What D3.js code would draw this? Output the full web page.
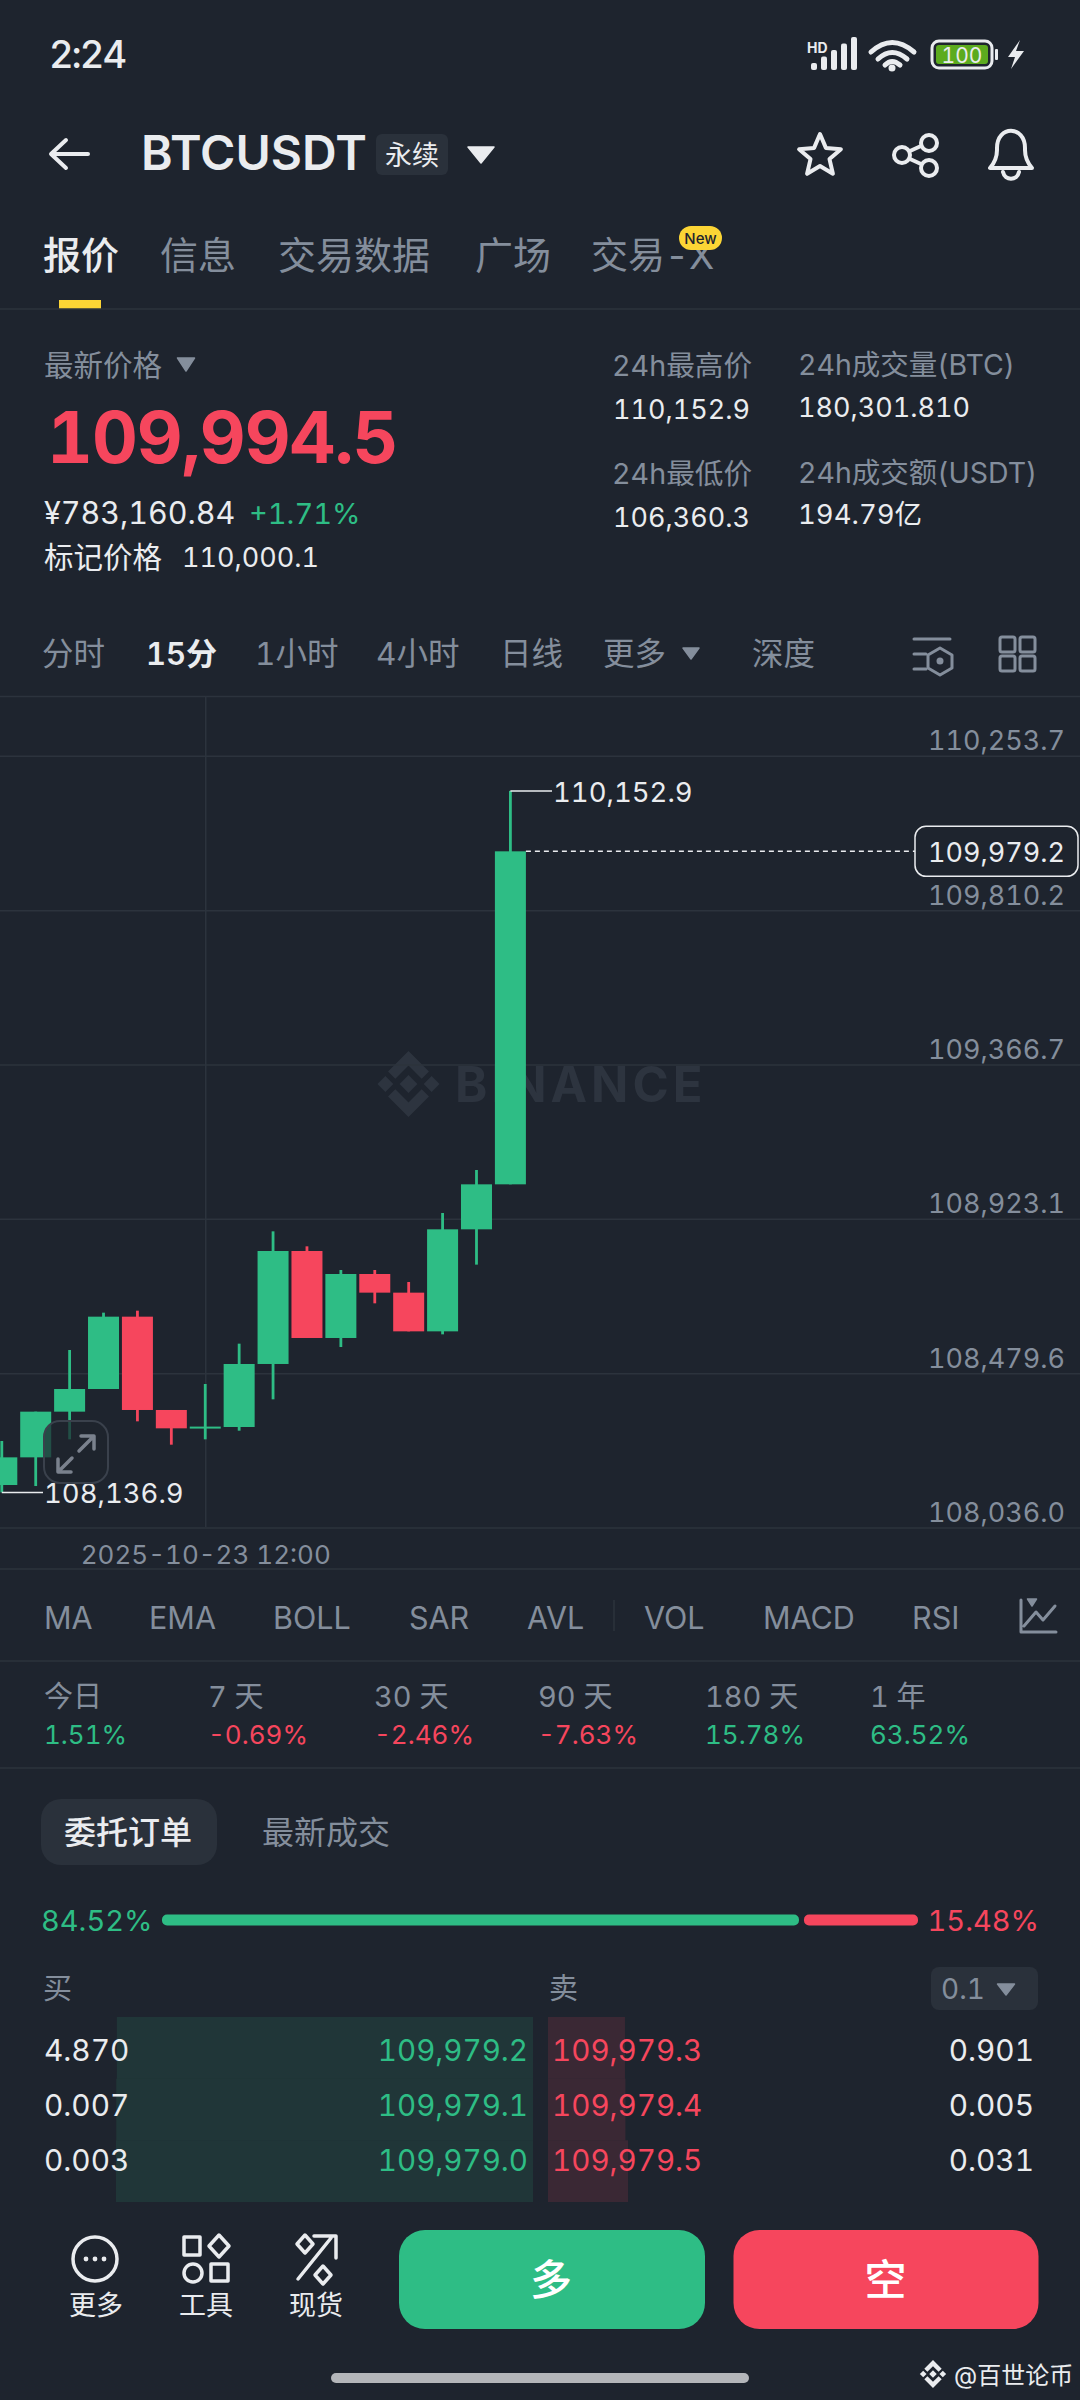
<!DOCTYPE html>
<html>
<head>
<meta charset="utf-8">
<script src="https://cdn.jsdelivr.net/npm/d3@7"></script>
<style>
  html, body { margin: 0; padding: 0; background: #1e242e; }
  svg { display: block; }
  text { font-family: Inter, "Noto Sans CJK SC", sans-serif; font-variant-numeric: tabular-nums; font-feature-settings: "tnum" 1; }
</style>
</head>
<body>
<div id="stage"></div>
<script>
// candle data (15m bars)
const candleTimes = ["10:30","10:45","11:00","11:15","11:30","11:45","12:00","12:15","12:30","12:45","13:00","13:15","13:30","13:45","14:00","14:15"];
const opens  = [108158.1,108237.6,108368.9,108434.0,108641.9,108373.7,108321.0,108324.8,108505.9,108830.6,108580.6,108764.5,108710.9,108599.7,108892.9,109022.2];
const highs  = [108284.6,108368.9,108546.1,108653.4,108659.1,108373.7,108448.4,108564.3,108887.1,108844.0,108776.0,108776.0,108741.5,108939.8,109063.4,110152.9];
const lows   = [108136.9,108155.2,108289.4,108434.0,108341.1,108274.0,108289.4,108314.2,108404.3,108580.6,108554.7,108680.2,108599.7,108591.1,108791.4,109022.2];
const closes = [108237.6,108368.9,108434.0,108641.9,108373.7,108321.0,108326.0,108505.9,108830.6,108580.6,108764.5,108710.9,108599.7,108892.9,109022.2,109979.2];
const priceTicks = [110253.7,109810.2,109366.7,108923.1,108479.6,108036.0];
const lastPrice = 109979.2;

const pageTabs = ["报价","信息","交易数据","广场","交易-X"];
const intervals = ["分时","15分","1小时","4小时","日线","更多","深度"];
const indicators = ["MA","EMA","BOLL","SAR","AVL","VOL","MACD","RSI"];
const perfLabels = ["今日","7 天","30 天","90 天","180 天","1 年"];
const perfValues = [1.51,-0.69,-2.46,-7.63,15.78,63.52];
const bidPrices = ["109,979.2","109,979.1","109,979.0"];
const askPrices = ["109,979.3","109,979.4","109,979.5"];
const bidQty = [4.870,0.007,0.003];
const askQty = [0.901,0.005,0.031];
const buyShare = 84.52, sellShare = 15.48;
const toolLabels = ["更多","工具","现货"];

const BG = "#1e242e", GREEN = "#2ebd85", RED = "#f6465d", TEXT = "#eaecef", MUTED = "#848e9c", LINE = "#2c333d", PILL = "#2a313b";

const svg = d3.select("#stage").append("svg").attr("width", 1080).attr("height", 2400);
svg.append("rect").attr("width", 1080).attr("height", 2400).attr("fill", BG);

function txt(x, y, s, size, fill, opts = {}) {
    return svg.append("text")
        .attr("x", x).attr("y", y)
        .attr("font-size", size)
        .attr("fill", fill)
        .attr("font-weight", opts.weight || 400)
        .attr("text-anchor", opts.anchor || "start")
        .attr("dominant-baseline", opts.mid ? "central" : "auto")
        .attr("letter-spacing", opts.ls || 0)
        .text(s);
}
function hline(y, x1 = 0, x2 = 1080) {
    svg.append("line").attr("x1", x1).attr("x2", x2).attr("y1", y).attr("y2", y).attr("stroke", LINE).attr("stroke-width", 1.5);
}
function tri(cx, y1, w, h, fill) {
    svg.append("path").attr("d", `M${cx - w / 2},${y1}h${w}l${-w / 2},${h}z`).attr("fill", fill)
        .attr("stroke", fill).attr("stroke-width", 1.5).attr("stroke-linejoin", "round");
}
function stroke(d, color = TEXT, w = 4) {
    return svg.append("path").attr("d", d).attr("fill", "none").attr("stroke", color).attr("stroke-width", w)
        .attr("stroke-linecap", "round").attr("stroke-linejoin", "round");
}
// binance style diamond mark
function logo(cx, cy, r, fill) {
    const g = svg.append("g").attr("transform", `translate(${cx},${cy})`).attr("fill", fill);
    const s = r * 0.30;
    const sq = (x, y, k = s) => g.append("path").attr("d", `M${x},${y - k}L${x + k},${y}L${x},${y + k}L${x - k},${y}z`);
    sq(0, 0, s * 0.9);
    sq(-r + s, 0, s * 0.8);
    sq(r - s, 0, s * 0.8);
    const chev = (dir) => g.append("path").attr("d",
        `M0,${dir * r}L${r * .62},${dir * r * .38}L${r * .4},${dir * r * .16}L0,${dir * r * .56}L${-r * .4},${dir * r * .16}L${-r * .62},${dir * r * .38}z`);
    chev(-1); chev(1);
}

// ---- status bar
txt(49, 68, "2:24", 38, TEXT, { weight: 500, ls: -2 });
txt(807, 53, "HD", 14, TEXT, { weight: 700 });
[0, 1, 2, 3, 4].forEach(i => {
    const h = 7 + i * 6.5;
    svg.append("rect").attr("x", 811 + i * 10).attr("y", 70 - h).attr("width", 6).attr("height", h).attr("rx", 2).attr("fill", TEXT);
});
stroke("M871,52Q892,33 914,52", TEXT, 5);
stroke("M878,59Q892,46 907,59", TEXT, 5);
stroke("M885,65Q892,58 900,65", TEXT, 5);
svg.append("circle").attr("cx", 892).attr("cy", 68).attr("r", 3.5).attr("fill", TEXT);
svg.append("rect").attr("x", 932).attr("y", 41).attr("width", 60).attr("height", 27).attr("rx", 7).attr("fill", "none").attr("stroke", TEXT).attr("stroke-width", 3);
svg.append("rect").attr("x", 936).attr("y", 45).attr("width", 52).attr("height", 19).attr("rx", 3).attr("fill", "#5cab1e");
svg.append("rect").attr("x", 995).attr("y", 49).attr("width", 3).attr("height", 11).attr("rx", 1).attr("fill", TEXT);
txt(962, 55, "100", 21, TEXT, { anchor: "middle", mid: true });
svg.append("path").attr("d", "M1020,40L1008,57L1015,57L1011,69L1024,51L1016,51z").attr("fill", TEXT);

// ---- title row
stroke("M88,154H52M66,140L51,154L66,168", TEXT, 4);
txt(141, 170, "BTCUSDT", 48, TEXT, { weight: 600 });
svg.append("rect").attr("x", 376).attr("y", 134).attr("width", 72).attr("height", 41).attr("rx", 6).attr("fill", PILL);
txt(412, 155, "永续", 27, TEXT, { anchor: "middle", mid: true });
tri(481, 147, 26, 16, TEXT);
stroke(d3.range(10).map(i => {
    const r = i % 2 ? 10 : 22, a = -Math.PI / 2 + i * Math.PI / 5;
    return (i ? "L" : "M") + (820 + r * Math.cos(a)).toFixed(1) + "," + (156 + r * Math.sin(a)).toFixed(1);
}).join("") + "z", TEXT, 4);
[[929, 143], [902, 155], [929, 168]].forEach(p => svg.append("circle").attr("cx", p[0]).attr("cy", p[1]).attr("r", 8).attr("fill", "none").attr("stroke", TEXT).attr("stroke-width", 4));
stroke("M910,151L921,146M910,159L921,164", TEXT, 4);
stroke("M990,168H1032Q1025,160 1025,150V148C1025,125 997,125 997,148V150Q997,160 990,168zM1003,172C1005,181 1017,181 1019,172", TEXT, 4);

// ---- page tabs
const tabX = [43, 160, 278, 475, 591];
const tabSize = [38, 38, 38, 38, 37];
pageTabs.forEach((t, i) => txt(tabX[i], 255, t, tabSize[i], i === 0 ? TEXT : MUTED, { mid: true, weight: i === 0 ? 500 : 400 }));
svg.append("rect").attr("x", 679).attr("y", 226).attr("width", 43).attr("height", 24).attr("rx", 12).attr("fill", "#fcd535");
txt(700.5, 238.5, "New", 15, "#1e242e", { anchor: "middle", mid: true, weight: 500 });
svg.append("rect").attr("x", 59).attr("y", 300).attr("width", 42).attr("height", 9).attr("fill", "#fcd535");
hline(309);

// ---- price block
txt(44, 365, "最新价格", 29.5, MUTED, { mid: true });
tri(186, 358, 17, 13, MUTED);
txt(47, 463, "109,994.5", 71, RED, { weight: 700, ls: -1 });
txt(44, 524, "¥783,160.84", 30.5, TEXT);
txt(249, 524, "+1.71%", 29, GREEN);
txt(44, 557, "标记价格", 29.5, TEXT, { mid: true });
txt(182, 567, "110,000.1", 27, TEXT);
txt(612, 365, "24h最高价", 28.7, MUTED, { mid: true });
txt(613, 419, "110,152.9", 27, TEXT);
txt(612, 473, "24h最低价", 28.7, MUTED, { mid: true });
txt(613, 527, "106,360.3", 27, TEXT);
txt(798, 364, "24h成交量(BTC)", 28.5, MUTED, { mid: true });
txt(798, 417, "180,301.810", 27, TEXT);
txt(798, 472, "24h成交额(USDT)", 28.5, MUTED, { mid: true });
txt(798, 524, "194.79亿", 27.5, TEXT);

// ---- interval row
const intervalX = [42, 146, 255, 376, 500, 603, 752];
intervals.forEach((t, i) => txt(intervalX[i], 653, t, i === 1 ? 31 : 31.5, i === 1 ? TEXT : MUTED, { mid: true, weight: i === 1 ? 600 : 400 }));
tri(691, 648, 16, 11, MUTED);
stroke("M914,639H950M914,654H926M914,669H926", MUTED, 3);
stroke("M940,648L952,655V668L940,675L928,668V655z", MUTED, 3);
svg.append("circle").attr("cx", 940).attr("cy", 661).attr("r", 3.5).attr("fill", MUTED);
[[1000, 637], [1020, 637], [1000, 656], [1020, 656]].forEach(p => svg.append("rect").attr("x", p[0]).attr("y", p[1]).attr("width", 15).attr("height", 15).attr("rx", 2)
    .attr("fill", "none").attr("stroke", MUTED).attr("stroke-width", 3));
hline(696.5);

// ---- candle chart
const parseT = d3.utcParse("%Y-%m-%d %H:%M");
const times = candleTimes.map(t => parseT("2025-10-23 " + t));
const x = d3.scaleUtc().domain([times[0], times[times.length - 1]]).range([1.8, 510.4]);
const y = d3.scaleLinear().domain([108036, 110253.7]).range([1527.5, 755.8]);
const fmt = d3.format(",.1f");
const candles = times.map((t, i) => ({ t, o: opens[i], h: highs[i], l: lows[i], c: closes[i] }));

// watermark under the candles
logo(408.5, 1084, 33, "#2d343f");
txt(455, 1101.5, "BINANCE", 49, "#2d343f", { weight: 700, ls: 4 });

const yAxis = d3.axisLeft(y).tickValues(priceTicks).tickSize(-1080).tickFormat(fmt);
const gy = svg.append("g").attr("class", "y-axis").call(yAxis);
gy.select(".domain").remove();
gy.selectAll(".tick line").attr("stroke", LINE).attr("stroke-width", 1.5);
gy.selectAll(".tick text").attr("x", 1065).attr("dy", -6).attr("text-anchor", "end").attr("dominant-baseline", "auto")
    .attr("fill", MUTED).attr("font-size", 27).attr("font-family", null);

const xAxis = d3.axisBottom(x).tickValues([times[6]]).tickSize(-830.5).tickFormat(d3.utcFormat("%Y-%m-%d %H:%M"));
const gx = svg.append("g").attr("class", "x-axis").attr("transform", "translate(0,1527)").call(xAxis);
gx.select(".domain").remove();
gx.selectAll(".tick line").attr("stroke", LINE).attr("stroke-width", 1.5);
gx.selectAll(".tick text").attr("y", 37).attr("dy", 0).attr("fill", MUTED).attr("font-size", 26).attr("font-family", null);
hline(1569);

const bodyW = 31;
const cg = svg.append("g").attr("class", "candles");
const cs = cg.selectAll("g").data(candles).enter().append("g")
    .attr("fill", d => d.c >= d.o ? GREEN : RED);
cs.append("rect").attr("class", "wick")
    .attr("x", d => x(d.t) - 1.4).attr("width", 2.8)
    .attr("y", d => y(d.h)).attr("height", d => y(d.l) - y(d.h));
cs.append("rect").attr("class", "body")
    .attr("x", d => x(d.t) - bodyW / 2).attr("width", bodyW)
    .attr("y", d => y(Math.max(d.o, d.c))).attr("height", d => Math.max(2, y(Math.min(d.o, d.c)) - y(Math.max(d.o, d.c))));

// high / low markers
const hi = candles[15], lo = candles[0];
svg.append("line").attr("x1", x(hi.t)).attr("x2", 552).attr("y1", y(hi.h)).attr("y2", y(hi.h)).attr("stroke", TEXT).attr("stroke-width", 1.5);
txt(553, y(hi.h) + 1, fmt(hi.h), 27.5, TEXT, { mid: true });
svg.append("line").attr("x1", x(lo.t)).attr("x2", 43).attr("y1", y(lo.l)).attr("y2", y(lo.l)).attr("stroke", TEXT).attr("stroke-width", 1.5);
txt(44, y(lo.l) + 1, fmt(lo.l), 27.5, TEXT, { mid: true });

// last price line + tag
svg.append("line").attr("x1", x(hi.t) + bodyW / 2).attr("x2", 915).attr("y1", y(lastPrice)).attr("y2", y(lastPrice))
    .attr("stroke", TEXT).attr("stroke-width", 1.5).attr("stroke-dasharray", "5 4");
svg.append("rect").attr("x", 915).attr("y", y(lastPrice) - 25).attr("width", 163).attr("height", 50).attr("rx", 11)
    .attr("fill", BG).attr("stroke", TEXT).attr("stroke-width", 1.5);
txt(1065, y(lastPrice) + 1, fmt(lastPrice), 27, TEXT, { anchor: "end", mid: true });

// expand button over the chart
svg.append("rect").attr("x", 44).attr("y", 1421).attr("width", 64).attr("height", 62).attr("rx", 16)
    .attr("fill", BG).attr("fill-opacity", 0.72).attr("stroke", "#3a414c").attr("stroke-width", 2);
stroke("M79,1451L93,1437M81,1436H94V1449M72,1458L59,1471M58,1459V1472H71", "#7a818d", 3.5);

// ---- indicator row
const indicatorX = [44, 149, 273, 409, 527, 644, 763, 912];
indicators.forEach((t, i) => txt(indicatorX[i], 1617, t, 30.5, MUTED, { mid: true }));
svg.append("line").attr("x1", 614).attr("x2", 614).attr("y1", 1600).attr("y2", 1631).attr("stroke", LINE).attr("stroke-width", 1.5);
stroke("M1021,1600V1632H1056M1024,1626L1036,1612L1043,1620L1055,1606", MUTED, 3);
tri(1032, 1599, 9, 7, MUTED);
hline(1661);

// ---- performance row
const perfX = [44, 208, 374, 538, 705, 870];
perfLabels.forEach((t, i) => {
    txt(perfX[i], 1696, t, 29, MUTED, { mid: true });
    const v = perfValues[i];
    txt(perfX[i], 1734, d3.format(".2f")(v).replace("−", "-") + "%", 26, v >= 0 ? GREEN : RED, { mid: true });
});
hline(1768);

// ---- order book tabs
svg.append("rect").attr("x", 41).attr("y", 1799).attr("width", 176).attr("height", 66).attr("rx", 20).attr("fill", PILL);
txt(64, 1832, "委托订单", 32, TEXT, { mid: true, weight: 500 });
txt(262, 1832, "最新成交", 32, MUTED, { mid: true });

// ---- buy / sell ratio
const ratioX = d3.scaleLinear().domain([0, buyShare + sellShare]).range([162, 918]);
txt(41, 1920, buyShare.toFixed(2) + "%", 29, GREEN, { mid: true });
svg.append("rect").attr("x", ratioX(0)).attr("y", 1914.5).attr("width", ratioX(buyShare) - ratioX(0) - 2).attr("height", 11).attr("rx", 5).attr("fill", GREEN);
svg.append("rect").attr("x", ratioX(buyShare) + 3).attr("y", 1914.5).attr("width", ratioX(buyShare + sellShare) - ratioX(buyShare) - 3).attr("height", 11).attr("rx", 5).attr("fill", RED);
txt(1039, 1920, sellShare.toFixed(2) + "%", 29, RED, { anchor: "end", mid: true });

// ---- order book
txt(43, 1988, "买", 29, MUTED, { mid: true });
txt(549, 1988, "卖", 29, MUTED, { mid: true });
svg.append("rect").attr("x", 931).attr("y", 1967).attr("width", 107).attr("height", 43).attr("rx", 8).attr("fill", PILL);
txt(941, 1989, "0.1", 28, MUTED, { mid: true });
tri(1006, 1984, 17, 11, MUTED);

const rowY = d3.scalePoint().domain(d3.range(3)).range([2050, 2160]);
const bandY = d3.scaleBand().domain(d3.range(3)).range([2017, 2202]);
const bidCum = d3.cumsum(bidQty), askCum = d3.cumsum(askQty);
const depth = d3.scaleLinear().domain([0, bidCum[2]]).range([0, 417]);
d3.range(3).forEach(i => {
    svg.append("rect").attr("x", 533 - depth(bidCum[i])).attr("y", bandY(i)).attr("width", depth(bidCum[i])).attr("height", bandY.bandwidth()).attr("fill", GREEN).attr("fill-opacity", 0.12);
    svg.append("rect").attr("x", 548).attr("y", bandY(i)).attr("width", depth(askCum[i])).attr("height", bandY.bandwidth()).attr("fill", RED).attr("fill-opacity", 0.13);
});
d3.range(3).forEach(i => {
    const ry = rowY(i);
    txt(44, ry, bidQty[i].toFixed(3), 29.8, TEXT, { mid: true });
    txt(528, ry, bidPrices[i], 29.6, GREEN, { anchor: "end", mid: true });
    txt(552, ry, askPrices[i], 29.6, RED, { mid: true });
    txt(1034, ry, askQty[i].toFixed(3), 29.8, TEXT, { anchor: "end", mid: true });
});

// ---- bottom bar
const toolX = [96, 206, 316];
toolLabels.forEach((t, i) => txt(toolX[i], 2305, t, 27, TEXT, { anchor: "middle", mid: true }));
svg.append("circle").attr("cx", 95).attr("cy", 2259).attr("r", 22).attr("fill", "none").attr("stroke", TEXT).attr("stroke-width", 3.5);
[-9, 0, 9].forEach(d => svg.append("circle").attr("cx", 95 + d).attr("cy", 2259).attr("r", 2.4).attr("fill", TEXT));
stroke("M184,2237h16v18h-16zM211,2264h17v17h-17z", TEXT, 3.5);
svg.append("circle").attr("cx", 193).attr("cy", 2273).attr("r", 9).attr("fill", "none").attr("stroke", TEXT).attr("stroke-width", 3.5);
stroke("M219,2235L229,2246L219,2257L209,2246z", TEXT, 3.5);
stroke("M298,2279L331,2238M314,2236H336V2258", TEXT, 3.5);
stroke("M305,2235L313,2244L305,2253L297,2244z", TEXT, 3.5);
stroke("M323,2266L331,2275L323,2284L315,2275z", TEXT, 3.5);

svg.append("rect").attr("x", 399).attr("y", 2230).attr("width", 306).attr("height", 99).attr("rx", 26).attr("fill", GREEN);
svg.append("rect").attr("x", 733.5).attr("y", 2230).attr("width", 305).attr("height", 99).attr("rx", 26).attr("fill", RED);
txt(551, 2279, "多", 42, "#fff", { anchor: "middle", mid: true, weight: 500 });
txt(885.5, 2279, "空", 42, "#fff", { anchor: "middle", mid: true, weight: 500 });
svg.append("rect").attr("x", 331).attr("y", 2373).attr("width", 418).attr("height", 10).attr("rx", 5).attr("fill", "#b4b6ba");
logo(933, 2374, 14, TEXT);
txt(954, 2375, "@百世论币", 24, TEXT, { mid: true });
</script>
</body>
</html>
